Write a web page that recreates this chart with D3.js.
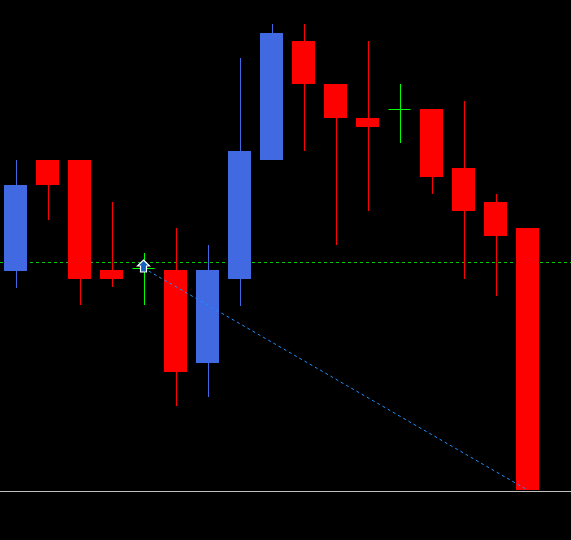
<!DOCTYPE html>
<html><head><meta charset="utf-8">
<script src="https://cdn.jsdelivr.net/npm/d3@7"></script>
<style>html,body{margin:0;padding:0;background:#000;overflow:hidden}</style>
</head><body><svg id="c" width="571" height="540"></svg>
<script>
const idx = d3.range(17);
const open  = [269,380,380,270,272,270,177,261,380,499,456,422,431,431,372,338,312];
const close = [355,355,261,261,272,168,270,389,507,456,422,413,431,363,329,304, 50];
const high  = [380,380,362,338,287,312,295,482,516,516,456,499,456,431,439,346,312];
const low   = [252,320,235,253,235,134,143,234,380,389,295,329,397,346,261,244, 50];
const levelGreen = 278;
const trendFrom = {i:4, v:272};
const trendTo = {i:16, v:50};
const baseLevel = 49;

const svg = d3.select("#c");
const x = d3.scaleLinear().domain([0,16]).range([15.5,527.5]);
const y = d3.scaleLinear().domain([0,540]).range([540,0]);
const bw = 23;
const col = i => open[i]===close[i] ? "#00ff00" : (close[i]>open[i] ? "#4169e1" : "#ff0000");

svg.append("line").attr("x1",0).attr("x2",571).attr("y1",y(levelGreen)+0.5).attr("y2",y(levelGreen)+0.5)
  .attr("stroke","#00cc00").attr("stroke-dasharray","3,3");
svg.append("line").attr("x1",0).attr("x2",571).attr("y1",y(baseLevel)+0.5).attr("y2",y(baseLevel)+0.5)
  .attr("stroke","#c0c0c0");

const g = svg.selectAll("g.k").data(idx).join("g");
g.append("line").attr("x1",i=>Math.round(x(i))+0.5).attr("x2",i=>Math.round(x(i))+0.5)
  .attr("y1",i=>y(high[i])).attr("y2",i=>y(low[i])).attr("stroke",col).attr("stroke-width",1);
g.filter(i=>open[i]!==close[i]).append("rect")
  .attr("x",i=>Math.round(x(i)-bw/2)).attr("width",bw)
  .attr("y",i=>y(Math.max(open[i],close[i]))).attr("height",i=>Math.abs(y(open[i])-y(close[i])))
  .attr("fill",col);
g.filter(i=>open[i]===close[i]).append("line")
  .attr("x1",i=>x(i)-11).attr("x2",i=>x(i)+11).attr("y1",i=>y(open[i])+0.5).attr("y2",i=>y(open[i])+0.5)
  .attr("stroke",col);

svg.append("line").attr("x1",x(trendFrom.i)).attr("y1",y(trendFrom.v))
  .attr("x2",x(trendTo.i)).attr("y2",y(trendTo.v))
  .attr("stroke","#1e90ff").attr("stroke-dasharray","3,3");

const ax = x(trendFrom.i), ay = y(trendFrom.v);
svg.append("path").attr("d",`M${ax},${ay-8} L${ax+6},${ay-2} L${ax+3},${ay-2} L${ax+3},${ay+4} L${ax-3},${ay+4} L${ax-3},${ay-2} L${ax-6},${ay-2} Z`)
  .attr("fill","#1560bd").attr("stroke","#fff").attr("stroke-width",1.2);
</script></body></html>
